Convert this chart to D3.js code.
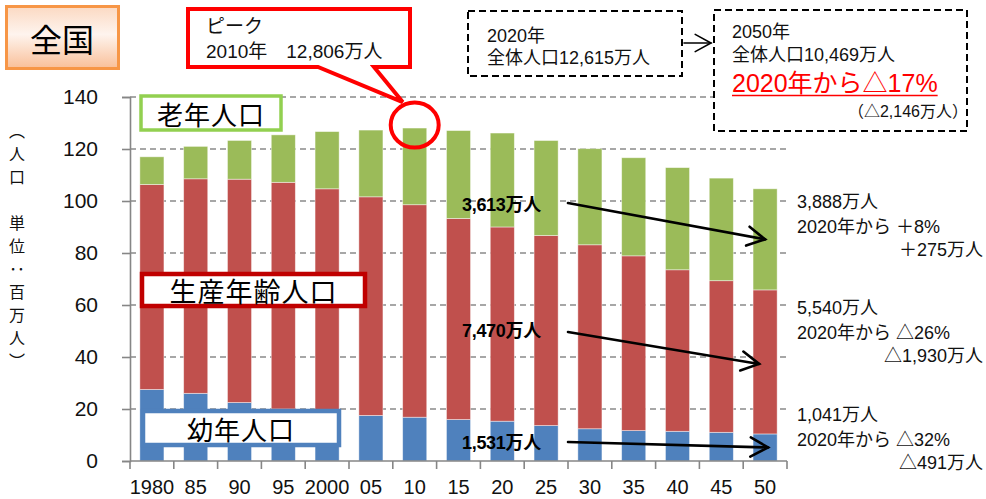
<!DOCTYPE html>
<html>
<head>
<meta charset="utf-8">
<script src="https://cdn.jsdelivr.net/npm/d3@7"></script>
<style>
  html, body { margin: 0; padding: 0; background: #fff; }
  svg { display: block; font-family: "Noto Sans CJK JP", "Noto Sans", sans-serif; }
  .mixed { font-family: "Liberation Sans", "Noto Sans CJK JP", sans-serif; }
</style>
</head>
<body>
<svg id="chart" width="986" height="499"></svg>
<script>
// Population of Japan by age group (millions)
const years = ["1980","85","90","95","2000","05","10","15","20","25","30","35","40","45","50"];
const young   = [27.51, 26.03, 22.49, 20.01, 18.47, 17.52, 16.84, 15.95, 15.31, 13.63, 12.40, 11.69, 11.42, 11.03, 10.41];
const working = [78.84, 82.51, 85.90, 87.17, 86.22, 84.09, 81.73, 77.35, 74.70, 73.10, 70.76, 67.22, 62.13, 58.32, 55.40];
const elderly = [10.65, 12.47, 14.90, 18.26, 22.01, 25.67, 29.49, 33.79, 36.13, 36.53, 36.96, 37.73, 39.29, 39.45, 38.88];
const yTicks  = [0, 20, 40, 60, 80, 100, 120, 140];

const seriesKeys   = ["young", "working", "elderly"];
const seriesColors = ["#4F81BD", "#C0504D", "#9BBB59"];

const svg = d3.select("#chart");
const plotL = 130, plotR = 787, plotT = 97, plotB = 461;

const rows = years.map((yr, i) => ({ year: yr, young: young[i], working: working[i], elderly: elderly[i] }));

const x = d3.scaleBand().domain(years).range([plotL, plotR]).paddingInner(0.45).paddingOuter(0.225);
const y = d3.scaleLinear().domain([0, 140]).range([plotB, plotT]);
const step = x.step();

// dashed gridlines
svg.append("g").selectAll("line")
  .data(yTicks.filter(t => t > 0))
  .join("line")
  .attr("x1", plotL).attr("x2", plotR)
  .attr("y1", d => y(d)).attr("y2", d => y(d))
  .attr("stroke", "#8a8a8a").attr("stroke-width", 1.6)
  .attr("stroke-dasharray", "6,4");

// stacked bars
const stacked = d3.stack().keys(seriesKeys)(rows);
svg.append("g").selectAll("g")
  .data(stacked)
  .join("g")
  .attr("fill", (d, i) => seriesColors[i])
  .selectAll("rect")
  .data(d => d)
  .join("rect")
  .attr("x", d => x(d.data.year))
  .attr("width", x.bandwidth())
  .attr("y", d => y(d[1]))
  .attr("height", d => y(d[0]) - y(d[1]))
  .attr("stroke", "rgba(255,255,255,0.55)")
  .attr("stroke-width", 0.8);

// y axis
const yAxis = svg.append("g")
  .attr("transform", `translate(${plotL},0)`)
  .call(d3.axisLeft(y).tickValues(yTicks).tickSize(8).tickPadding(24).tickFormat(d3.format("d")));
yAxis.select(".domain").attr("stroke", "#868686").attr("stroke-width", 1.6);
yAxis.selectAll(".tick line").attr("stroke", "#868686").attr("stroke-width", 1.6);
yAxis.selectAll(".tick text")
  .attr("font-family", "'Liberation Sans', Arial, sans-serif")
  .attr("font-size", 21).attr("fill", "#111");

// x axis
svg.append("line")
  .attr("x1", plotL).attr("x2", plotR).attr("y1", plotB).attr("y2", plotB)
  .attr("stroke", "#868686").attr("stroke-width", 1.6);
svg.append("g").selectAll("line")
  .data(d3.range(years.length + 1))
  .join("line")
  .attr("x1", i => plotL + i * step).attr("x2", i => plotL + i * step)
  .attr("y1", plotB).attr("y2", plotB + 8)
  .attr("stroke", "#868686").attr("stroke-width", 1.6);
const xAxis = svg.append("g")
  .attr("transform", `translate(0,${plotB})`)
  .call(d3.axisBottom(x).tickSize(0).tickPadding(19));
xAxis.select(".domain").remove();
xAxis.selectAll(".tick text")
  .attr("font-family", "'Liberation Sans', Arial, sans-serif")
  .attr("font-size", 20).attr("fill", "#111");

// vertical axis title
svg.append("text")
  .attr("x", 17).attr("y", 123)
  .attr("writing-mode", "vertical-rl")
  .attr("font-size", 16).attr("letter-spacing", 7).attr("fill", "#111")
  .text("（人口　単位：百万人）");

// helper: open-headed arrow
function arrow(x1, y1, x2, y2, w, len) {
  const g = svg.append("g").attr("stroke", "#000").attr("stroke-width", w)
    .attr("fill", "none").attr("stroke-linecap", "round");
  g.append("line").attr("x1", x1).attr("y1", y1).attr("x2", x2).attr("y2", y2);
  const a = Math.atan2(y2 - y1, x2 - x1), s = 0.5;
  g.append("polyline").attr("points", [
    [x2 - len * Math.cos(a - s), y2 - len * Math.sin(a - s)],
    [x2, y2],
    [x2 - len * Math.cos(a + s), y2 - len * Math.sin(a + s)]
  ].map(p => p.join(",")).join(" "));
}

// multi-line text block: one <text> with a tspan per line
function textBlock(lines, fs, fill) {
  const t = svg.append("text").attr("class", "mixed")
    .attr("font-size", fs).attr("fill", fill || "#111");
  lines.forEach(l => {
    t.append("tspan").attr("x", l.x).attr("y", l.y)
      .attr("text-anchor", l.anchor || "start").text(l.t);
  });
  return t;
}

// change arrows from the 2020 values to the 2050 segments
const last = rows.length - 1;
const endX = x(years[last]) + x.bandwidth() / 2;
const segMid = k => { const s = stacked[seriesKeys.indexOf(k)][last]; return y((s[0] + s[1]) / 2); };
arrow(568, 203, endX, segMid("elderly"), 2.6, 20);
arrow(568, 332, endX - 6, segMid("working") + 2, 2.6, 20);
arrow(568, 442, endX + 3, segMid("young"), 2.6, 20);

// bold 2020 values
const boldLabels = [
  { t: "3,613万人", y: 211 }, { t: "7,470万人", y: 337 }, { t: "1,531万人", y: 449 }
];
svg.append("g").selectAll("text")
  .data(boldLabels).join("text")
  .attr("class", "mixed")
  .attr("x", 462).attr("y", d => d.y)
  .attr("font-size", 18).attr("font-weight", "bold").attr("fill", "#000")
  .attr("letter-spacing", -0.3)
  .text(d => d.t);

// 2050 notes at the right
const notes = [
  { l1: "3,888万人", l2: "2020年から ＋8%", l3: "＋275万人", y: 208 },
  { l1: "5,540万人", l2: "2020年から △26%", l3: "△1,930万人", y: 314 },
  { l1: "1,041万人", l2: "2020年から △32%", l3: "△491万人", y: 421 }
];
notes.forEach(n => {
  textBlock([
    { t: n.l1, x: 797, y: n.y },
    { t: n.l2, x: 797, y: n.y + 25 },
    { t: n.l3, x: 983, y: n.y + 48, anchor: "end" }
  ], 18);
});

// legend-style labels
function labelBox(bx, by, bw, bh, color, sw, txt, fs) {
  svg.append("rect").attr("x", bx).attr("y", by).attr("width", bw).attr("height", bh)
    .attr("fill", "#fff").attr("stroke", color).attr("stroke-width", sw);
  svg.append("text").attr("x", bx + bw / 2).attr("y", by + bh / 2)
    .attr("text-anchor", "middle").attr("dominant-baseline", "central")
    .attr("font-size", fs).attr("fill", "#000").attr("letter-spacing", 1)
    .text(txt);
}
labelBox(141, 96, 140, 34, "#92D050", 3.5, "老年人口", 26);
labelBox(142, 274, 223, 32, "#C00000", 4.5, "生産年齢人口", 27);
labelBox(143, 411, 196, 34, "#4F81BD", 4.5, "幼年人口", 26);

// title badge
const defs = svg.append("defs");
const grad = defs.append("linearGradient").attr("id", "badge").attr("x1", 0).attr("y1", 0).attr("x2", 0).attr("y2", 1);
grad.append("stop").attr("offset", "0%").attr("stop-color", "#FBD9C2");
grad.append("stop").attr("offset", "45%").attr("stop-color", "#FEF4EE");
grad.append("stop").attr("offset", "100%").attr("stop-color", "#F9BF98");
svg.append("rect").attr("x", 6.5).attr("y", 6.5).attr("width", 112).attr("height", 62)
  .attr("fill", "url(#badge)").attr("stroke", "#F79646").attr("stroke-width", 3);
svg.append("text").attr("x", 62).attr("y", 38)
  .attr("text-anchor", "middle").attr("dominant-baseline", "central")
  .attr("font-size", 32).attr("fill", "#000").text("全国");

// peak callout
const peakIdx = 6;
const peakX = x(years[peakIdx]) + x.bandwidth() / 2;
const peakY = y(young[peakIdx] + working[peakIdx] + elderly[peakIdx]);
svg.append("ellipse").attr("cx", peakX).attr("cy", peakY - 3).attr("rx", 24).attr("ry", 22.5)
  .attr("fill", "none").attr("stroke", "#FF0000").attr("stroke-width", 4);
svg.append("path")
  .attr("d", `M188,9 H410 V67 H374 L${peakX - 12},${peakY - 26} L318,67 H188 Z`)
  .attr("fill", "#fff").attr("stroke", "#FF0000").attr("stroke-width", 4).attr("stroke-linejoin", "miter");
textBlock([
  { t: "ピーク", x: 206, y: 33 },
  { t: "2010年　12,806万人", x: 206, y: 58 }
], 19);

// totals 2020 → 2050
svg.append("rect").attr("x", 468).attr("y", 11).attr("width", 214).attr("height", 65)
  .attr("fill", "#fff").attr("stroke", "#000").attr("stroke-width", 2).attr("stroke-dasharray", "7,4");
textBlock([
  { t: "2020年", x: 487, y: 42 },
  { t: "全体人口12,615万人", x: 487, y: 64 }
], 18);

svg.append("rect").attr("x", 714).attr("y", 10).attr("width", 253).attr("height", 121)
  .attr("fill", "#fff").attr("stroke", "#000").attr("stroke-width", 2).attr("stroke-dasharray", "7,4");
arrow(684, 43, 711, 43, 1.6, 18);
textBlock([
  { t: "2050年", x: 732, y: 38 },
  { t: "全体人口10,469万人", x: 732, y: 61 }
], 18);
const red = svg.append("text").attr("class", "mixed")
  .attr("x", 732).attr("y", 92).attr("font-size", 25).attr("fill", "#FF0000")
  .text("2020年から△17%");
const rw = red.node().getComputedTextLength();
svg.append("line").attr("x1", 732).attr("x2", 732 + rw).attr("y1", 95.5).attr("y2", 95.5)
  .attr("stroke", "#FF0000").attr("stroke-width", 1.6);
svg.append("text").attr("class", "mixed")
  .attr("x", 968).attr("y", 117).attr("text-anchor", "end")
  .attr("font-size", 16).attr("fill", "#111").text("（△2,146万人）");
</script>
</body>
</html>
